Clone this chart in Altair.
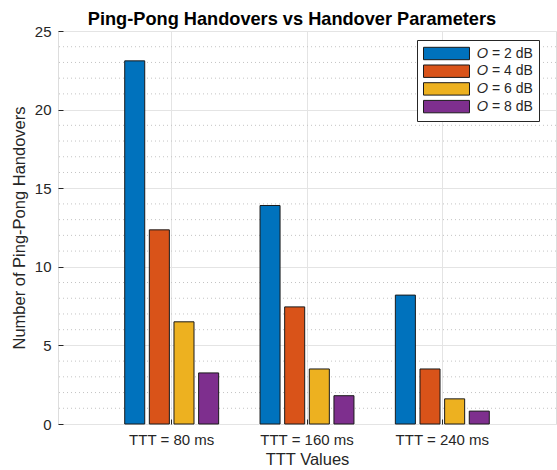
import altair as alt
import pandas as pd

# Grouped bar data: ping-pong handovers per TTT setting and hysteresis offset
ttt_labels = ["TTT = 80 ms", "TTT = 160 ms", "TTT = 240 ms"]
offset_labels = ["𝑂 = 2 dB", "𝑂 = 4 dB", "𝑂 = 6 dB", "𝑂 = 8 dB"]
handovers_o2 = [23.1, 13.9, 8.2]
handovers_o4 = [12.35, 7.45, 3.5]
handovers_o6 = [6.5, 3.5, 1.6]
handovers_o8 = [3.25, 1.8, 0.82]

bar_colors = ["#0072BD", "#D95319", "#EDB120", "#7E2F8E"]
major_ticks = [0, 5, 10, 15, 20, 25]
minor_ticks = [v for v in range(0, 26) if v % 5 != 0]

series = [handovers_o2, handovers_o4, handovers_o6, handovers_o8]
rows = []
for label, values in zip(offset_labels, series):
    for ttt, v in zip(ttt_labels, values):
        rows.append({"ttt": ttt, "offset": label, "count": v})
df = pd.DataFrame(rows)
minor_df = pd.DataFrame({"v": minor_ticks})

FONT = "Liberation Sans"
TEXT = "#262626"
W, H = 498, 393

x_scale = alt.Scale(domain=ttt_labels, paddingInner=0, paddingOuter=0.34)
xoff_scale = alt.Scale(domain=offset_labels, paddingInner=0.187, paddingOuter=0.84)
y_scale = alt.Scale(domain=[0, 25], nice=False, zero=True)

# wide swatch: sqrt(symbolSize)=14 px, so one path unit is 7 px
swatch_path = "M-1,-0.886L5.571,-0.886L5.571,0.886L-1,0.886Z"

# dotted minor grid
minor = alt.Chart(minor_df).mark_rule(
    color="#c4c4c4", strokeDash=[1, 3], strokeWidth=1
).encode(y=alt.Y("v:Q", scale=y_scale, axis=None))

bars = alt.Chart(df).mark_bar(stroke="#1a1a1a", strokeWidth=1).encode(
    x=alt.X(
        "ttt:N",
        scale=x_scale,
        sort=ttt_labels,
        axis=alt.Axis(
            title="TTT Values",
            labelAngle=0,
            labelFont=FONT,
            labelFontSize=15,
            labelColor=TEXT,
            labelPadding=8,
            ticks=False,
            domain=False,
            grid=True,
            gridColor="#e4e4e4",
            gridWidth=1,
            bandPosition=0.5,
            titleFont=FONT,
            titleFontSize=16.5,
            titleFontWeight="normal",
            titleColor=TEXT,
            titlePadding=4,
        ),
    ),
    xOffset=alt.XOffset("offset:N", scale=xoff_scale, sort=offset_labels),
    y=alt.Y(
        "count:Q",
        scale=y_scale,
        axis=alt.Axis(
            title="Number of Ping-Pong Handovers",
            values=major_ticks,
            labelFont=FONT,
            labelFontSize=15,
            labelColor=TEXT,
            labelPadding=7,
            ticks=False,
            domain=False,
            grid=True,
            gridColor="#e4e4e4",
            gridWidth=1,
            titleFont=FONT,
            titleFontSize=16.5,
            titleFontWeight="normal",
            titleColor=TEXT,
            titlePadding=7,
        ),
    ),
    color=alt.Color(
        "offset:N",
        scale=alt.Scale(domain=offset_labels, range=bar_colors),
        sort=offset_labels,
        legend=alt.Legend(
            title=None,
            orient="none",
            legendX=359,
            legendY=9,
            direction="vertical",
            symbolType=swatch_path,
            symbolSize=196,
            symbolStrokeColor="#1a1a1a",
            symbolStrokeWidth=1,
            symbolOpacity=1,
            labelFont=FONT,
            labelFontSize=14,
            labelColor=TEXT,
            labelOffset=39,
            labelExpr="datum.label + '\u00a0\u00a0'",
            rowPadding=0.7,
            padding=6,
            strokeColor=TEXT,
            fillColor="white",
        ),
    ),
)

# inward tick marks along the left and bottom edges
ticks = alt.Chart(df).mark_bar(opacity=0).encode(
    x=alt.X(
        "ttt:N",
        scale=x_scale,
        sort=ttt_labels,
        axis=alt.Axis(
            orient="top", offset=-H, labels=False, title=None, grid=False,
            domain=False, ticks=True, tickSize=5, tickColor=TEXT, bandPosition=0.5,
        ),
    ),
    xOffset=alt.XOffset("offset:N", scale=xoff_scale, sort=offset_labels),
    y=alt.Y(
        "count:Q",
        scale=y_scale,
        axis=alt.Axis(
            orient="right", offset=-W, values=major_ticks, labels=False,
            title=None, grid=False, domain=False, ticks=True, tickSize=5,
            tickColor=TEXT,
        ),
    ),
)

chart = (
    alt.layer(minor, bars, ticks)
    .resolve_axis(x="independent", y="independent")
    .properties(
        width=W,
        height=H,
        autosize=alt.AutoSizeParams(type="none"),
        padding={"left": 58, "top": 31, "right": 1, "bottom": 46},
        title=alt.TitleParams(
            "Ping-Pong Handovers vs Handover Parameters",
            font=FONT,
            fontSize=18.2,
            fontWeight="bold",
            color="#000000",
            anchor="middle",
            dx=-15,
            offset=-5,
        ),
    )
    .configure_view(stroke=TEXT, strokeWidth=1)
    .configure(background="white")
)

chart.save("out.html", embed_options={"renderer": "svg", "actions": False})
